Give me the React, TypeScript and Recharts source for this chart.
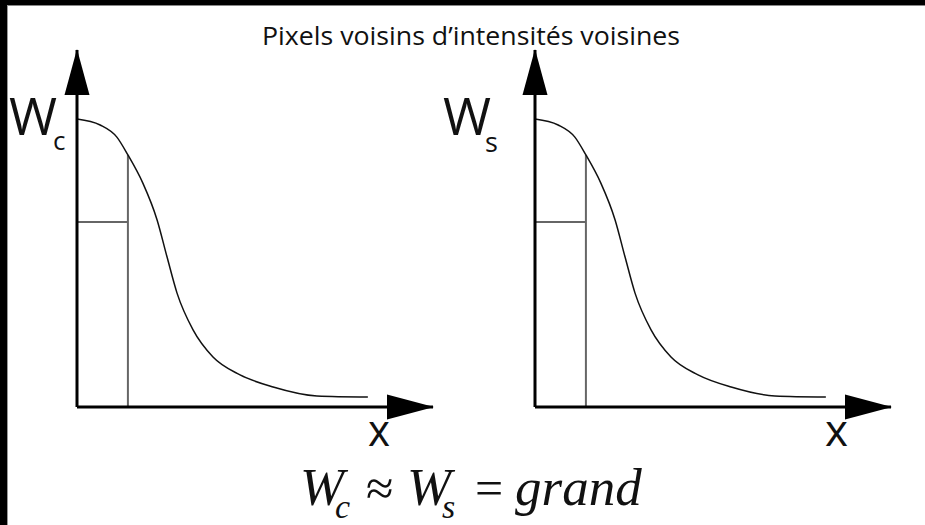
import React from 'react';
import { LineChart, Line, XAxis, YAxis, ReferenceLine, ReferenceDot } from 'recharts';

// readings (axis units: 0..10 on both axes)
const curveX = [0, 0.65, 1.12, 1.43, 1.85, 2.25, 2.53, 2.81, 3.26, 3.82, 4.58, 5.51, 6.74, 8.17];
const wcValues = [8.07, 7.9, 7.56, 7.06, 6.27, 5.24, 4.2, 3.19, 2.16, 1.4, 0.9, 0.56, 0.31, 0.28];
const wsValues = [8.07, 7.9, 7.56, 7.06, 6.27, 5.24, 4.2, 3.19, 2.16, 1.4, 0.9, 0.56, 0.31, 0.28];
const thresholdX = 1.43;
const thresholdY = 5.18;
const curveAtThreshold = 7.06;
const axisMax = 10;

const W = 460;
const H = 430;
const MARGIN = { top: 50, left: 77, right: 27, bottom: 23 };

const xArrow = (props: any) => {
  const { cx, cy } = props;
  return <polygon points={`${cx + 1},${cy} ${cx - 46},${cy - 12.5} ${cx - 46},${cy + 12.5}`} fill="#000" />;
};

const yArrow = (props: any) => {
  const { cx, cy } = props;
  return <polygon points={`${cx},${cy - 1} ${cx - 12.5},${cy + 45} ${cx + 12.5},${cy + 45}`} fill="#000" />;
};

const Panel = ({ values, left }: { values: number[]; left: number }) => {
  const data = curveX.map((x, i) => ({ x, w: values[i] }));
  return (
    <div style={{ position: 'absolute', left, top: 0 }}>
      <LineChart width={W} height={H} data={data} margin={MARGIN}>
        <XAxis type="number" dataKey="x" domain={[0, axisMax]} allowDataOverflow hide />
        <YAxis type="number" domain={[0, axisMax]} allowDataOverflow hide />
        <ReferenceLine
          segment={[{ x: thresholdX, y: 0 }, { x: thresholdX, y: curveAtThreshold }]}
          stroke="#666"
          strokeWidth={2}
        />
        <ReferenceLine
          segment={[{ x: 0, y: thresholdY }, { x: thresholdX, y: thresholdY }]}
          stroke="#666"
          strokeWidth={2}
        />
        <Line
          type="monotone"
          dataKey="w"
          stroke="#111"
          strokeWidth={1.5}
          dot={false}
          isAnimationActive={false}
        />
        {/* axes */}
        <ReferenceLine y={0} stroke="#000" strokeWidth={3} />
        <ReferenceLine x={0} stroke="#000" strokeWidth={3} />
        <ReferenceDot x={axisMax} y={0} shape={xArrow} />
        <ReferenceDot x={0} y={axisMax} shape={yArrow} />
      </LineChart>
    </div>
  );
};

const sans = "'Open Sans', 'Noto Sans', sans-serif";
const serif = "'Liberation Serif', 'DejaVu Serif', serif";

export default function App() {
  return (
    <div
      style={{
        position: 'fixed',
        left: 0,
        top: 0,
        width: 925,
        height: 525,
        background: '#fff',
        overflow: 'hidden',
      }}
    >
      <div style={{ position: 'absolute', left: 0, top: 0, width: 925, height: 5, background: '#000' }} />
      <div style={{ position: 'absolute', left: 0, top: 5, width: 925, height: 1, background: '#888' }} />
      <div style={{ position: 'absolute', left: 0, top: 0, width: 7, height: 525, background: '#000' }} />
      <div style={{ position: 'absolute', left: 7, top: 5, width: 1, height: 520, background: '#999' }} />
      <Panel values={wcValues} left={0} />
      <Panel values={wsValues} left={458} />
      <svg width={925} height={525} style={{ position: 'absolute', left: 0, top: 0, pointerEvents: 'none' }}>
        <text x={262} y={45} fontFamily={sans} fontSize={26} textLength={418} lengthAdjust="spacingAndGlyphs" fill="#111">
          Pixels voisins d’intensités voisines
        </text>
        <text fontFamily={sans} fill="#111">
          <tspan x={9} y={135} fontSize={52}>W</tspan>
          <tspan x={53} y={150} fontSize={26}>c</tspan>
        </text>
        <text fontFamily={sans} fill="#111">
          <tspan x={443} y={135} fontSize={52}>W</tspan>
          <tspan x={485} y={152} fontSize={27}>s</tspan>
        </text>
        <text x={368} y={446} fontFamily={sans} fontSize={44} textLength={22} lengthAdjust="spacingAndGlyphs" fill="#111">x</text>
        <text x={825} y={446} fontFamily={sans} fontSize={44} textLength={23} lengthAdjust="spacingAndGlyphs" fill="#111">x</text>
        <text fontFamily={serif} fill="#111">
          <tspan x={300} y={505} fontSize={53} fontStyle="italic">W</tspan>
          <tspan x={335} y={518} fontSize={34} fontStyle="italic">c</tspan>
          <tspan x={366} y={505} fontSize={50}>≈</tspan>
          <tspan x={407} y={505} fontSize={53} fontStyle="italic">W</tspan>
          <tspan x={442} y={518} fontSize={34} fontStyle="italic">s</tspan>
          <tspan x={475} y={505} fontSize={50}>=</tspan>
          <tspan x={515} y={505} fontSize={53} fontStyle="italic">grand</tspan>
        </text>
      </svg>
    </div>
  );
}
